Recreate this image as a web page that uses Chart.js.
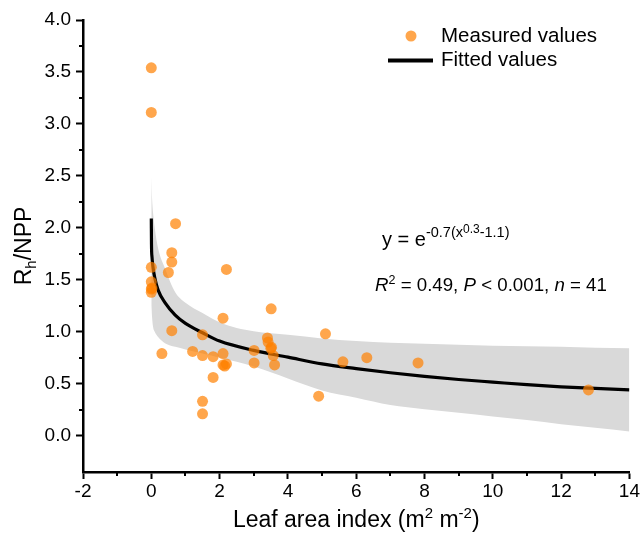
<!DOCTYPE html>
<html>
<head>
<meta charset="utf-8">
<script src="https://cdn.jsdelivr.net/npm/chart.js@4.4.0/dist/chart.umd.min.js"></script>
<style>
  html, body { margin: 0; padding: 0; background: #fff; }
  #wrap { width: 641px; height: 534px; }
</style>
</head>
<body>
<div id="wrap"><canvas id="myChart" width="641" height="534"></canvas></div>
<script>
// measured values (leaf area index vs Rh/NPP)
const lai = [0, 0, 0.71, 0.6, 0.6, 0.5, 0, 0, 0, 0, 0.02, 2.2, 0.6, 0.31, 1.21, 1.5, 1.5, 1.81, 1.81, 1.5, 1.5,
             2.1, 2.1, 2.1, 2.15, 2.2, 3.51, 3.4, 3.42, 3.52, 3.5, 3.01, 3.01, 3.57, 3.61, 5.1, 4.9, 5.61, 6.31, 7.81, 12.8];
const ratio = [3.54, 3.11, 2.04, 1.76, 1.67, 1.57, 1.62, 1.48, 1.41, 1.38, 1.42, 1.6, 1.01, 0.79, 0.81, 0.97, 0.77, 0.76, 0.56, 0.33, 0.21,
               1.13, 0.79, 0.68, 0.67, 0.69, 1.22, 0.94, 0.9, 0.85, 0.84, 0.82, 0.7, 0.77, 0.68, 0.98, 0.38, 0.71, 0.75, 0.7, 0.44];

// fitted curve
const fitX = [0, 0.005, 0.02, 0.05, 0.1, 0.2, 0.4, 0.7, 1, 1.5, 2, 3, 4, 5, 6, 7, 8, 9, 10, 11, 12, 13, 14];
const fitY = [2.09, 1.85, 1.72, 1.62, 1.52, 1.4, 1.28, 1.16, 1.08, 0.99, 0.91, 0.82, 0.755, 0.69, 0.645, 0.605, 0.57, 0.54, 0.515, 0.49, 0.47, 0.455, 0.44];

// confidence band
const bandX = [0, 0.02, 0.05, 0.1, 0.2, 0.4, 0.7, 1, 1.5, 2, 2.5, 3, 3.5, 4, 5, 6, 7, 8, 9, 10, 11, 12, 13, 14];
const bandUpper = [2.49, 2.3, 2.15, 2.0, 1.8, 1.61, 1.38, 1.28, 1.18, 1.09, 1.035, 1.005, 0.985, 0.97, 0.935, 0.91, 0.895, 0.885, 0.875, 0.865, 0.86, 0.855, 0.845, 0.84];
const bandLower = [1.25, 1.15, 1.05, 1.0, 0.95, 0.89, 0.855, 0.83, 0.79, 0.75, 0.71, 0.665, 0.61, 0.55, 0.435, 0.365, 0.295, 0.255, 0.22, 0.185, 0.15, 0.11, 0.075, 0.04];

const xTicks = [-2, 0, 2, 4, 6, 8, 10, 12, 14];
const xMinor = [-1, 1, 3, 5, 7, 9, 11, 13];
const yTicks = [0, 0.5, 1, 1.5, 2, 2.5, 3, 3.5, 4];
const yMinor = [0.25, 0.75, 1.25, 1.75, 2.25, 2.75, 3.25, 3.75];

const FONT = 'Liberation Sans, Arial, sans-serif';
const orange = 'rgba(255,128,0,0.7)';

function toPoints(xs, ys) {
    return xs.map((x, i) => ({ x: x, y: ys[i] }));
}

// draws a row of text pieces with sizes / offsets (superscripts etc.)
function drawRuns(ctx, x, y, runs) {
    runs.forEach(r => {
        ctx.font = (r.italic ? 'italic ' : '') + r.size + 'px ' + FONT;
        ctx.fillText(r.t, x, y + (r.dy || 0));
        x += ctx.measureText(r.t).width;
    });
}

function runsWidth(ctx, runs) {
    let w = 0;
    runs.forEach(r => {
        ctx.font = (r.italic ? 'italic ' : '') + r.size + 'px ' + FONT;
        w += ctx.measureText(r.t).width;
    });
    return w;
}

const extrasPlugin = {
    id: 'extras',
    afterDraw(chart) {
        const ctx = chart.ctx;
        const xs = chart.scales.x;
        const ys = chart.scales.y;
        const area = chart.chartArea;
        ctx.save();

        // minor ticks
        ctx.strokeStyle = '#000';
        ctx.lineWidth = 2;
        ctx.beginPath();
        xMinor.forEach(v => {
            const px = Math.round(xs.getPixelForValue(v));
            ctx.moveTo(px, area.bottom);
            ctx.lineTo(px, area.bottom + 4);
        });
        yMinor.forEach(v => {
            const py = Math.round(ys.getPixelForValue(v));
            ctx.moveTo(area.left, py);
            ctx.lineTo(area.left - 4, py);
        });
        ctx.stroke();

        ctx.fillStyle = '#000';
        ctx.textBaseline = 'alphabetic';
        ctx.textAlign = 'left';

        // axis titles
        const yRuns = [
            { t: 'R', size: 23 },
            { t: 'h', size: 15, dy: 5 },
            { t: '/NPP', size: 23 }
        ];
        ctx.save();
        ctx.translate(31, (area.top + area.bottom) / 2);
        ctx.rotate(-Math.PI / 2);
        drawRuns(ctx, -runsWidth(ctx, yRuns) / 2, 0, yRuns);
        ctx.restore();

        const xRuns = [
            { t: 'Leaf area index (m', size: 23 },
            { t: '2', size: 15, dy: -9 },
            { t: ' m', size: 23 },
            { t: '-2', size: 15, dy: -9 },
            { t: ')', size: 23 }
        ];
        drawRuns(ctx, (area.left + area.right) / 2 - runsWidth(ctx, xRuns) / 2, 527, xRuns);

        // legend
        const ds = chart.data.datasets;
        ctx.fillStyle = ds[0].backgroundColor;
        ctx.beginPath();
        ctx.arc(411, 36, 5.5, 0, Math.PI * 2);
        ctx.fill();
        ctx.strokeStyle = ds[1].borderColor;
        ctx.lineWidth = 4;
        ctx.beginPath();
        ctx.moveTo(388, 60.5);
        ctx.lineTo(433, 60.5);
        ctx.stroke();
        ctx.fillStyle = '#000';
        ctx.font = '20.5px ' + FONT;
        ctx.textBaseline = 'middle';
        ctx.fillText(ds[0].label, 441, 36);
        ctx.fillText(ds[1].label, 441, 60);
        ctx.textBaseline = 'alphabetic';

        // equation and statistics
        drawRuns(ctx, 382, 246, [
            { t: 'y = e', size: 20 },
            { t: '-0.7(x', size: 14.5, dy: -9 },
            { t: '0.3', size: 12, dy: -13 },
            { t: '-1.1)', size: 14.5, dy: -9 }
        ]);
        drawRuns(ctx, 375, 291, [
            { t: 'R', size: 18.7, italic: true },
            { t: '2', size: 12.5, dy: -7 },
            { t: ' = 0.49, ', size: 18.7 },
            { t: 'P', size: 18.7, italic: true },
            { t: ' < 0.001, ', size: 18.7 },
            { t: 'n', size: 18.7, italic: true },
            { t: ' = 41', size: 18.7 }
        ]);
        ctx.restore();
    }
};

const ctx = document.getElementById('myChart').getContext('2d');
new Chart(ctx, {
    type: 'scatter',
    data: {
        datasets: [
            {
                label: 'Measured values',
                data: toPoints(lai, ratio),
                backgroundColor: orange,
                borderWidth: 0,
                pointRadius: 5.5,
                pointHoverRadius: 5.5
            },
            {
                label: 'Fitted values',
                data: toPoints(fitX, fitY),
                showLine: true,
                borderColor: '#000',
                borderWidth: 3.2,
                pointRadius: 0,
                cubicInterpolationMode: 'monotone',
                fill: false
            },
            {
                label: 'upper',
                data: toPoints(bandX, bandUpper),
                showLine: true,
                borderWidth: 0,
                borderColor: 'rgba(0,0,0,0)',
                pointRadius: 0,
                cubicInterpolationMode: 'monotone',
                backgroundColor: '#d9d9d9',
                fill: 3
            },
            {
                label: 'lower',
                data: toPoints(bandX, bandLower),
                showLine: true,
                borderWidth: 0,
                borderColor: 'rgba(0,0,0,0)',
                pointRadius: 0,
                cubicInterpolationMode: 'monotone',
                fill: false
            }
        ]
    },
    options: {
        responsive: false,
        animation: false,
        devicePixelRatio: 1,
        layout: { padding: { top: 20, right: 10, left: 0, bottom: 0 } },
        plugins: {
            legend: { display: false },
            tooltip: { enabled: false }
        },
        scales: {
            x: {
                type: 'linear',
                min: -2,
                max: 14,
                afterBuildTicks: s => { s.ticks = xTicks.map(v => ({ value: v })); },
                afterFit: s => { s.height = 62; },
                ticks: {
                    color: '#000',
                    font: { family: FONT, size: 19 },
                    padding: 1,
                    maxRotation: 0,
                    callback: v => String(v)
                },
                grid: { drawOnChartArea: false, drawTicks: true, tickLength: 7, tickWidth: 2, tickColor: '#000' },
                border: { display: true, color: '#000', width: 2.5 }
            },
            y: {
                type: 'linear',
                min: -0.35,
                max: 4.0,
                afterBuildTicks: s => { s.ticks = yTicks.map(v => ({ value: v })); },
                afterFit: s => { s.width = 83; },
                ticks: {
                    color: '#000',
                    font: { family: FONT, size: 19 },
                    padding: 5,
                    callback: v => v.toFixed(1)
                },
                grid: { drawOnChartArea: false, drawTicks: true, tickLength: 7, tickWidth: 2, tickColor: '#000' },
                border: { display: true, color: '#000', width: 2.5 }
            }
        }
    },
    plugins: [extrasPlugin]
});
</script>
</body>
</html>
